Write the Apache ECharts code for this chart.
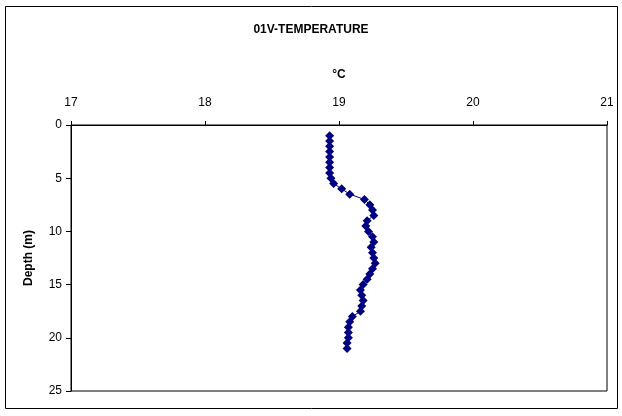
<!DOCTYPE html>
<html>
<head>
<meta charset="utf-8">
<script src="https://cdn.jsdelivr.net/npm/echarts@6/dist/echarts.min.js"></script>
<style>
  html, body { margin: 0; padding: 0; background: #fff; }
  #chart { width: 622px; height: 416px; }
</style>
</head>
<body>
<div id="chart"></div>
<script>
// Temperature profile, station 01V: depth (m) vs temperature (°C)
const depths = [
  1.0, 1.5, 2.0, 2.5, 3.0, 3.5, 4.0, 4.5, 5.0, 5.5,
  6.0, 6.5, 7.0, 7.5, 8.0, 8.5, 9.0, 9.5, 10.0, 10.5,
  11.0, 11.5, 12.0, 12.5, 13.0, 13.5, 14.0, 14.5, 15.0, 15.5,
  16.0, 16.5, 17.0, 17.5, 18.0, 18.5, 19.0, 19.5, 20.0, 20.5, 21.0
];
const temperatures = [
  18.93, 18.93, 18.93, 18.93, 18.93, 18.93, 18.93, 18.93, 18.94, 18.96,
  19.02, 19.08, 19.19, 19.23, 19.25, 19.26, 19.21, 19.20, 19.22, 19.25,
  19.26, 19.24, 19.25, 19.26, 19.27, 19.25, 19.23, 19.21, 19.18, 19.16,
  19.17, 19.18, 19.17, 19.16, 19.10, 19.08, 19.07, 19.07, 19.07, 19.06, 19.06
];
const tempTicks = [17, 18, 19, 20, 21];
const depthTicks = [0, 5, 10, 15, 20, 25];

const chart = echarts.init(document.getElementById('chart'));
const font = 'Arial, "Liberation Sans", sans-serif';

chart.setOption({
  animation: false,
  backgroundColor: '#fff',
  title: {
    text: '01V-TEMPERATURE',
    left: 'center',
    top: 19,
    textStyle: { fontFamily: font, fontSize: 12, fontWeight: 'bold', color: '#000' }
  },
  graphic: [{
    type: 'rect',
    shape: { x: 5.5, y: 6.5, width: 612, height: 402 },
    style: { fill: 'none', stroke: '#000', lineWidth: 1 },
    silent: true
  }],
  grid: {
    left: 71, right: 15, top: 125, bottom: 25,
    show: true, borderColor: '#000', borderWidth: 1, backgroundColor: 'transparent'
  },
  xAxis: {
    type: 'value',
    position: 'top',
    min: tempTicks[0],
    max: tempTicks[tempTicks.length - 1],
    interval: 1,
    name: '°C',
    nameLocation: 'middle',
    nameGap: 44,
    nameTextStyle: { fontFamily: font, fontSize: 12, fontWeight: 'bold', color: '#000' },
    axisLine: { show: true, lineStyle: { color: '#000', width: 1 } },
    axisTick: { show: true, inside: false, length: 4, lineStyle: { color: '#000' } },
    axisLabel: { fontFamily: font, fontSize: 12, color: '#000', margin: 16 },
    splitLine: { show: false }
  },
  yAxis: {
    type: 'value',
    inverse: true,
    min: depthTicks[0],
    max: depthTicks[depthTicks.length - 1],
    interval: 5,
    name: 'Depth (m)',
    nameLocation: 'middle',
    nameGap: 36,
    nameRotate: 90,
    nameTextStyle: { fontFamily: font, fontSize: 12, fontWeight: 'bold', color: '#000' },
    axisLine: { show: true, lineStyle: { color: '#000', width: 1 } },
    axisTick: { show: true, inside: false, length: 5, lineStyle: { color: '#000' } },
    axisLabel: { fontFamily: font, fontSize: 12, color: '#000', margin: 9 },
    splitLine: { show: false }
  },
  series: [{
    type: 'line',
    data: temperatures.map((t, i) => [t, depths[i]]),
    symbol: 'diamond',
    symbolSize: 9,
    itemStyle: { color: '#000080' },
    lineStyle: { color: '#000080', width: 1 }
  }]
});
</script>
</body>
</html>
